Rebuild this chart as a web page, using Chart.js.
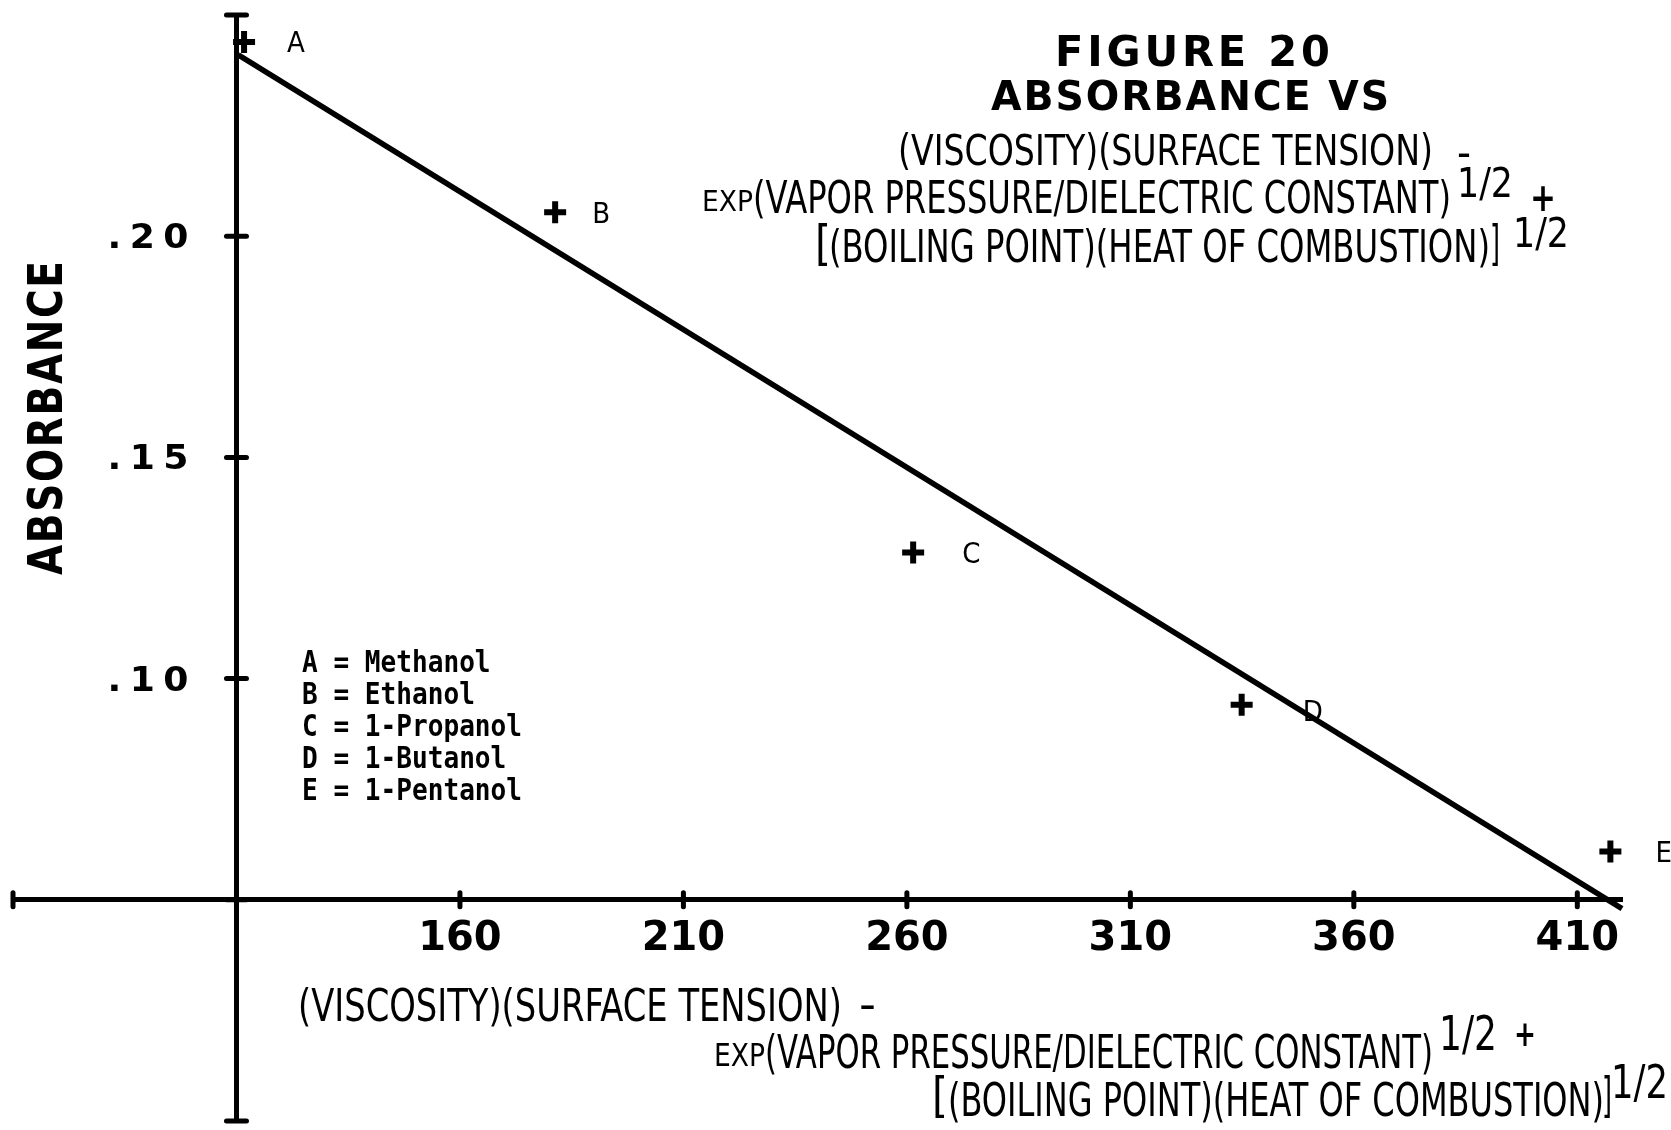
<!DOCTYPE html>
<html>
<head>
<meta charset="utf-8">
<title>Figure 20 - Absorbance vs combined property index</title>
<script src="https://cdn.jsdelivr.net/npm/chart.js@4.4.1/dist/chart.umd.min.js"></script>
<style>
  html, body { margin: 0; padding: 0; background: #fff; }
  canvas { display: block; }
</style>
</head>
<body>
<canvas id="chart" width="1671" height="1130"></canvas>
<script>
// Samples: letter, alcohol, combined property index (x) and absorbance (y)
const sampleLetters = ['A', 'B', 'C', 'D', 'E'];
const sampleNames = ['Methanol', 'Ethanol', '1-Propanol', '1-Butanol', '1-Pentanol'];
const propertyIndex = [111.7, 181.3, 261.4, 334.9, 417.4];
const absorbance = [0.2439, 0.2054, 0.1285, 0.0941, 0.0609];

// Fitted straight line (end points)
const fitX = [110.4, 420];
const fitY = [0.241, 0.048];

// Axes: ranges, crossing point, ticks and their labels
const xRange = [60, 420];
const yRange = [0, 0.25];
const axisCross = { x: 110, y: 0.05 };
const xTickValues = [60, 110, 160, 210, 260, 310, 360, 410];
const xTickLabels = ['', '', '160', '210', '260', '310', '360', '410'];
const yTickValues = [0, 0.05, 0.10, 0.15, 0.20, 0.25];
const yTickLabels = ['', '', '.10', '.15', '.20', ''];

// Point label nudges (px) relative to each marker
const pointLabelDx = [43, 37, 49, 61, 45];
const pointLabelDy = [0, 0, 0, 6, 0];

const BLOCK = '"DejaVu Sans", sans-serif';
const NARROW = '"Liberation Sans Narrow", "DejaVu Sans Condensed", "Liberation Sans", sans-serif';
const MONO = '"DejaVu Sans Mono", "Liberation Mono", monospace';

// Draw text so that it spans [left, right] with the given cap height
function fitText(ctx, str, left, right, baseline, capHeight, family, weight, spacing) {
  const size = capHeight / 0.72;
  ctx.save();
  ctx.font = (weight || 'normal') + ' ' + size + 'px ' + family;
  ctx.letterSpacing = (spacing || 0) + 'px';
  ctx.textAlign = 'left';
  ctx.textBaseline = 'alphabetic';
  const w = ctx.measureText(str).width - (spacing || 0);
  ctx.translate(left, baseline);
  ctx.scale((right - left) / w, 1);
  ctx.fillStyle = '#000';
  ctx.fillText(str, 0, 0);
  ctx.restore();
}

function drawScaled(ctx, str, left, baseline, size, sx, family, weight) {
  ctx.save();
  ctx.font = (weight || 'normal') + ' ' + size + 'px ' + family;
  ctx.textAlign = 'left';
  ctx.textBaseline = 'alphabetic';
  ctx.translate(left, baseline);
  ctx.scale(sx, 1);
  ctx.fillStyle = '#000';
  ctx.fillText(str, 0, 0);
  ctx.restore();
}

// Tick marks crossing both sides of each axis, plus y tick labels
const crossTicks = {
  id: 'crossTicks',
  beforeDatasetsDraw(chart) {
    const { ctx, scales: { x, y } } = chart;
    const x0 = x.getPixelForValue(axisCross.x);
    const y0 = y.getPixelForValue(axisCross.y);
    ctx.save();
    ctx.strokeStyle = '#000';
    ctx.lineCap = 'round';
    ctx.lineWidth = 5;
    x.ticks.forEach(t => {
      const px = x.getPixelForValue(t.value);
      ctx.beginPath();
      ctx.moveTo(px, y0 - 7);
      ctx.lineTo(px, y0 + 7);
      ctx.stroke();
    });
    y.ticks.forEach(t => {
      const py = y.getPixelForValue(t.value);
      ctx.beginPath();
      ctx.moveTo(x0 - 10, py);
      ctx.lineTo(x0 + 10, py);
      ctx.stroke();
    });
    ctx.restore();
    y.ticks.forEach((t, i) => {
      const label = yTickLabels[i];
      if (!label) return;
      const py = y.getPixelForValue(t.value);
      fitText(ctx, label, x0 - 129, x0 - 48, py + 12, 24.5, BLOCK, 'bold', 8);
    });
  }
};

// Titles, axis titles, key and point letters
const annotations = {
  id: 'annotations',
  afterDraw(chart) {
    const { ctx } = chart;

    // Point letters next to each marker
    const meta = chart.getDatasetMeta(1);
    meta.data.forEach((pt, i) => {
      drawScaled(ctx, sampleLetters[i], pt.x + pointLabelDx[i], pt.y + 10.5 + pointLabelDy[i], 29, 1, NARROW);
    });

    // Key
    sampleLetters.forEach((l, i) => {
      drawScaled(ctx, l + ' = ' + sampleNames[i], 302, 672 + i * 32, 30, 0.87, MONO, 'bold');
    });

    // Figure heading
    fitText(ctx, 'FIGURE 20', 1055, 1330, 66, 31, BLOCK, 'bold', 4);
    fitText(ctx, 'ABSORBANCE VS', 991, 1389, 110, 29, BLOCK, 'bold', 2);
    fitText(ctx, '(VISCOSITY)(SURFACE TENSION)', 898, 1433, 165, 31, NARROW);
    fitText(ctx, '-', 1457, 1471, 167, 31, NARROW);
    fitText(ctx, 'EXP', 702, 753, 211, 21, NARROW);
    fitText(ctx, '(VAPOR PRESSURE/DIELECTRIC CONSTANT)', 753, 1451, 213, 32, NARROW);
    fitText(ctx, '1/2', 1457, 1513, 197, 30, NARROW);
    fitText(ctx, '+', 1530, 1556, 211, 28, NARROW, 'bold');
    fitText(ctx, '[', 815, 831, 260, 34, NARROW);
    fitText(ctx, '(BOILING POINT)(HEAT OF COMBUSTION)', 829, 1490, 262, 32, NARROW);
    fitText(ctx, ']', 1490, 1500, 260, 34, NARROW);
    fitText(ctx, '1/2', 1513, 1569, 247, 29, NARROW);

    // X axis title
    fitText(ctx, '(VISCOSITY)(SURFACE TENSION)', 298, 842, 1021, 32, NARROW);
    fitText(ctx, '-', 859, 876, 1019, 32, NARROW);
    fitText(ctx, 'EXP', 714, 765, 1066, 23, NARROW);
    fitText(ctx, '(VAPOR PRESSURE/DIELECTRIC CONSTANT)', 765, 1433, 1068, 33, NARROW);
    fitText(ctx, '1/2', 1439, 1497, 1050, 35, NARROW);
    fitText(ctx, '+', 1514, 1536, 1046, 25, NARROW, 'bold');
    fitText(ctx, '[', 932, 948, 1112, 34, NARROW);
    fitText(ctx, '(BOILING POINT)(HEAT OF COMBUSTION)', 948, 1604, 1116, 33, NARROW);
    fitText(ctx, ']', 1602, 1612, 1112, 34, NARROW);
    fitText(ctx, '1/2', 1611, 1668, 1098, 33, NARROW);

    // Y axis title, reading upwards
    ctx.save();
    ctx.translate(62, 575);
    ctx.rotate(-Math.PI / 2);
    fitText(ctx, 'ABSORBANCE', 0, 314, 0, 35, BLOCK, 'bold', 2);
    ctx.restore();
  }
};

const zeroFit = s => {
  if (s.isHorizontal()) s.height = 0; else s.width = 0;
  s.paddingLeft = s.paddingRight = s.paddingTop = s.paddingBottom = 0;
};

new Chart(document.getElementById('chart'), {
  type: 'scatter',
  data: {
    datasets: [
      {
        type: 'line',
        data: fitX.map((v, i) => ({ x: v, y: fitY[i] })),
        borderColor: '#000',
        borderWidth: 5.5,
        pointRadius: 0,
        fill: false,
        clip: false
      },
      {
        data: propertyIndex.map((v, i) => ({ x: v, y: absorbance[i] })),
        pointStyle: 'cross',
        pointRadius: 11,
        pointHoverRadius: 11,
        borderWidth: 6,
        borderColor: '#000',
        backgroundColor: '#000',
        clip: false
      }
    ]
  },
  options: {
    responsive: false,
    animation: false,
    events: [],
    layout: { autoPadding: false, padding: { left: 13, right: 49, top: 15, bottom: 9 } },
    plugins: { legend: { display: false }, tooltip: { enabled: false } },
    scales: {
      x: {
        type: 'linear',
        min: xRange[0],
        max: xRange[1],
        position: { y: axisCross.y },
        grid: { display: false, drawTicks: false },
        border: { display: true, color: '#000', width: 5 },
        afterBuildTicks: s => { s.ticks = xTickValues.map(v => ({ value: v })); },
        afterFit: zeroFit,
        ticks: {
          autoSkip: false,
          maxRotation: 0,
          minRotation: 0,
          padding: 16,
          color: '#000',
          font: { family: '"DejaVu Sans"', weight: 'bold', size: 40 },
          callback: (v, i) => xTickLabels[i]
        }
      },
      y: {
        type: 'linear',
        min: yRange[0],
        max: yRange[1],
        position: { x: axisCross.x },
        grid: { display: false, drawTicks: false },
        border: { display: true, color: '#000', width: 5 },
        afterBuildTicks: s => { s.ticks = yTickValues.map(v => ({ value: v })); },
        afterFit: zeroFit,
        ticks: { display: false }
      }
    }
  },
  plugins: [crossTicks, annotations]
});
</script>
</body>
</html>
